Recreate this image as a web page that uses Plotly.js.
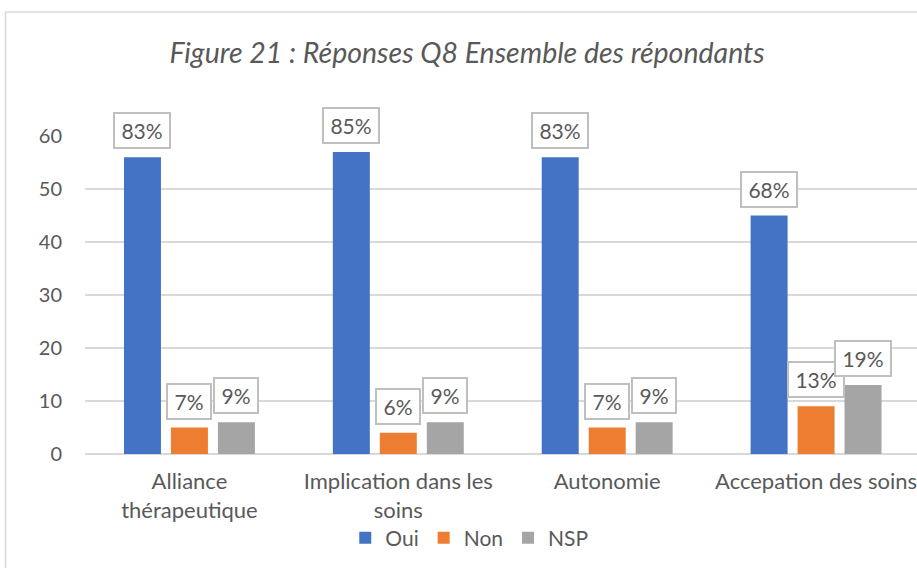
<!DOCTYPE html>
<html><head><meta charset="utf-8">
<script src="https://cdn.plot.ly/plotly-3.0.1.min.js"></script>
<style>html,body{margin:0;padding:0;background:#fff;}#chart{width:917px;height:568px;}</style>
</head><body><div id="chart"></div>
<script>
const categories = ['Alliance<br>thérapeutique', 'Implication dans les<br>soins', 'Autonomie', 'Accepation des soins'];
const seriesNames = ['Oui', 'Non', 'NSP'];
const oui = [56, 57, 56, 45];
const non = [5, 4, 5, 9];
const nsp = [6, 6, 6, 13];
const ouiPct = ['83%', '85%', '83%', '68%'];
const nonPct = ['7%', '6%', '7%', '13%'];
const nspPct = ['9%', '9%', '9%', '19%'];
const yTicks = [0, 10, 20, 30, 40, 50, 60];

const colors = ['#4472C4', '#ED7D31', '#A5A5A5'];
const txt = '#595959';
const font = 'Lato, "Open Sans", sans-serif';
const idx = categories.map((_, i) => i);
const values = [oui, non, nsp];
const pcts = [ouiPct, nonPct, nspPct];

const traces = values.map((v, s) => ({
  type: 'bar', name: seriesNames[s], x: idx, y: v,
  marker: {color: colors[s]}, hoverinfo: 'none'
}));

const L = 84.5, R = 917, T = 136, B = 454;
const W = R - L, H = B - T;
const step = 209;
const xmax = -0.5 + W / step;
const slot = 47 / step;

const annotations = [];
values.forEach((v, s) => {
  v.forEach((val, i) => {
    const t = pcts[s][i];
    annotations.push({
      x: i + (s - 1) * slot, y: val, xref: 'x', yref: 'y',
      text: t, showarrow: false, yanchor: 'bottom', yshift: 8,
      font: {family: font, size: 21, color: txt},
      bordercolor: '#BFBFBF', borderwidth: 2, borderpad: 4,
      bgcolor: '#ffffff',
      width: t.length >= 3 ? 46 : 34, height: 25
    });
  });
});

const layout = {
  width: 917, height: 568,
  margin: {l: L, r: 917 - R, t: T, b: 568 - B, pad: 0},
  paper_bgcolor: '#ffffff', plot_bgcolor: '#ffffff',
  font: {family: font, color: txt, size: 20},
  title: {text: '<i>Figure 21 : Réponses Q8 Ensemble des répondants</i>',
    x: 467 / 917, xref: 'container', xanchor: 'center',
    y: 1 - 53 / 568, yref: 'container', yanchor: 'middle',
    font: {family: font, size: 28.5, color: txt}},
  barmode: 'group', bargap: 1 - 141 / 209, bargroupgap: 10 / 47,
  xaxis: {
    range: [-0.5, xmax], tickvals: idx, ticktext: categories,
    showgrid: false, zeroline: false, showline: false, ticks: '',
    tickfont: {family: font, size: 22, color: txt}, ticklabelstandoff: 12,
    ticklabeloverflow: 'allow', fixedrange: true
  },
  yaxis: {
    range: [0, 60], tickvals: yTicks, ticktext: yTicks.map(String),
    showgrid: true, gridcolor: '#D9D9D9', gridwidth: 1.5,
    zeroline: true, zerolinecolor: '#D9D9D9', zerolinewidth: 1.5,
    showline: false, ticks: '', ticklabelstandoff: 22,
    tickfont: {family: font, size: 20, color: txt}, fixedrange: true
  },
  showlegend: true,
  legend: {orientation: 'h', x: (469 - L) / W, xanchor: 'center',
    y: (B - 538) / H, yanchor: 'middle',
    font: {family: font, size: 21, color: txt}, itemwidth: 30, traceorder: 'normal'},
  annotations: annotations,
  shapes: [{type: 'rect', xref: 'paper', yref: 'paper',
    x0: (5 - L) / W, x1: 1.2, y0: -1, y1: (B - 12) / H,
    line: {color: '#D9D9D9', width: 1.5}, fillcolor: 'rgba(0,0,0,0)', layer: 'below'}]
};

Plotly.newPlot('chart', traces, layout, {displayModeBar: false, staticPlot: true});
</script></body></html>
